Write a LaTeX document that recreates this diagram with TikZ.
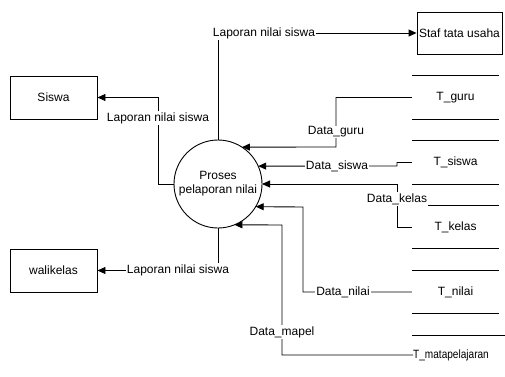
\documentclass[tikz,border=0pt]{standalone}
\usepackage{fontspec}
\setmainfont{Liberation Sans}
\usetikzlibrary{arrows.meta}
\begin{document}
\begin{tikzpicture}[x=1pt,y=-1pt,
  every node/.style={font=\fontsize{12}{14}\selectfont},
  line/.style={draw=black,line width=0.9pt},
  flow/.style={line,-{Triangle[length=8pt,width=7pt]}},
  entity/.style={draw=black,line width=0.9pt,rectangle,minimum width=87pt,minimum height=43pt,inner sep=0pt},
  process/.style={draw=black,line width=0.9pt,circle,minimum size=88pt,inner sep=0pt,outer sep=0pt,align=center},
  store/.style={rectangle,minimum width=87pt,minimum height=43pt,inner sep=0pt},
  lbl/.style={fill=white,inner sep=1pt}]
\useasboundingbox (0,0) rectangle (505,376);

% process
\node[process] (proc) at (218,184) {Proses\\pelaporan nilai};

% external entities
\node[entity,minimum width=85pt,minimum height=42pt] (staf) at (459.5,33) {Staf tata usaha};
\node[entity] (siswa) at (53.5,97.5) {Siswa};
\node[entity] (wali) at (53.5,270.5) {walikelas};

% data stores
\node[store] (sguru) at (455.5,97.5) {T\_guru};
\node[store] (ssiswa) at (455.5,162.5) {T\_siswa};
\node[store] (skelas) at (455.5,227) {T\_kelas};
\node[store] (snilai) at (455.5,292) {T\_nilai};
\node[anchor=west,inner sep=0pt] (smapel) at (413,355) {\scalebox{0.84}[1]{T\_matapelajaran}};
\foreach \s in {sguru,ssiswa,skelas,snilai}{
  \draw[line] (\s.north west) -- (\s.north east);
  \draw[line] (\s.south west) -- (\s.south east);
}
\coordinate (mt1) at (412,335);
\coordinate (mt2) at (505,335);
\draw[line] (mt1) -- (mt2);

% bend points
\coordinate (sb) at (158,184);
\coordinate (g1) at (336,147);
\coordinate (sj1) at (397,162.5);
\coordinate (sj2) at (397,166);
\coordinate (k1) at (397,184);
\coordinate (n1) at (303,207);
\coordinate (m1) at (282,225);

% outgoing flows
\draw[flow] (proc.north) |- (staf.west);
\draw[flow] (proc.west) -- (sb) |- (siswa.east);
\draw[flow] (proc.south) |- (wali.east);

% incoming flows
\draw[flow] (sguru.west) -| (g1) -- (proc.57.2);
\draw[flow] (ssiswa.west) -- (sj1) -- (sj2) -- (proc.24.1);
\draw[flow] (skelas.west) -| (k1) -- (proc.east);
\draw[flow] (snilai.west) -| (n1) -- (proc.-31.5);
\draw[flow] (smapel.west) -| (m1) -- (proc.-68.7);

% flow labels
\node[lbl] (l1) at (264,33) {Laporan nilai siswa};
\node[lbl] (l2) at (158,118) {Laporan nilai siswa};
\node[lbl] (l3) at (178,270) {Laporan nilai siswa};
\node[lbl] (l4) at (336,132) {Data\_guru};
\node[lbl] (l5) at (337,166) {Data\_siswa};
\node[lbl] (l6) at (397,199) {Data\_kelas};
\node[lbl] (l7) at (343,292) {Data\_nilai};
\node[lbl] (l8) at (282,332) {Data\_mapel};
\end{tikzpicture}
\end{document}
